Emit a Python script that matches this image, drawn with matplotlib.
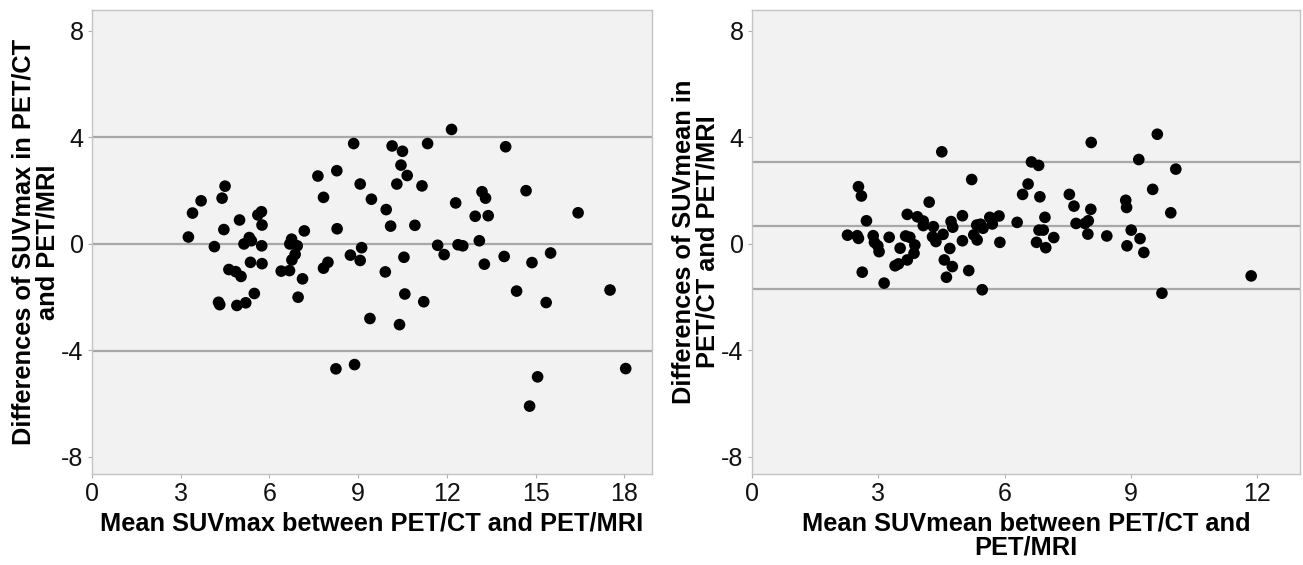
import numpy as np
import matplotlib.pyplot as plt

plt.rcParams['font.family'] = ['Liberation Sans', 'DejaVu Sans']
plt.rcParams['axes.unicode_minus'] = False

# SUVmax: mean of both scanners vs difference
suvmax_mean = [8.85, 8.28, 7.64, 9.07, 7.83, 9.45, 4.50, 3.69, 4.40, 3.40,
               3.26, 4.14, 4.46, 4.99, 5.61, 5.73, 5.75, 5.32, 5.14, 5.39,
               5.74, 5.36, 5.75, 4.63, 4.86, 5.04, 5.49, 4.28, 4.32, 4.90,
               5.20, 6.75, 6.69, 6.94, 6.87, 6.76, 7.18, 6.40, 6.68, 7.12,
               6.97, 8.29, 9.12, 8.74, 9.07, 7.98, 7.83, 9.40, 8.25, 8.88,
               12.16, 10.15, 10.50, 11.35, 13.99, 10.45, 10.66, 10.31, 11.16, 9.95,
               10.10, 10.92, 12.30, 13.19, 13.31, 12.96, 13.40, 14.68, 16.44, 11.69,
               11.91, 12.38, 12.54, 13.10, 13.27, 13.94, 14.88, 15.51, 10.55, 9.92,
               10.58, 11.22, 10.40, 14.36, 15.36, 17.52, 15.07, 14.80, 18.05]
suvmax_diff = [3.77, 2.75, 2.55, 2.25, 1.75, 1.68, 2.17, 1.62, 1.72, 1.16,
               0.26, -0.10, 0.54, 0.90, 1.09, 1.21, 0.71, 0.24, 0.00, 0.12,
               -0.07, -0.69, -0.74, -0.96, -1.04, -1.22, -1.86, -2.19, -2.28, -2.31,
               -2.21, 0.18, 0.00, -0.07, -0.39, -0.60, 0.49, -1.02, -1.00, -1.31,
               -2.00, 0.57, -0.14, -0.42, -0.62, -0.69, -0.91, -2.80, -4.69, -4.53,
               4.30, 3.68, 3.48, 3.77, 3.65, 2.96, 2.57, 2.25, 2.18, 1.29,
               0.67, 0.70, 1.54, 1.96, 1.72, 1.04, 1.06, 2.00, 1.17, -0.05,
               -0.40, -0.03, -0.07, 0.12, -0.76, -0.47, -0.70, -0.34, -0.50, -1.05,
               -1.88, -2.17, -3.03, -1.77, -2.20, -1.73, -4.99, -6.09, -4.68]
suvmax_lines = [-4.02, 0.0, 4.02]

# SUVmean
suvmean_mean = [4.51, 2.53, 2.60, 2.72, 2.27, 2.50, 2.53, 2.88, 2.91, 2.99,
                3.02, 3.26, 2.62, 3.14, 3.52, 3.40, 3.48, 3.69, 3.65, 3.75,
                3.87, 3.85, 3.69, 3.93, 4.07, 4.07, 4.21, 4.31, 4.29, 4.37,
                4.54, 4.73, 4.77, 4.70, 4.57, 4.76, 4.62, 5.00, 5.00, 5.22,
                5.15, 5.47, 5.34, 5.43, 5.49, 5.27, 5.35, 5.65, 5.71, 5.87,
                5.89, 6.30, 6.56, 6.43, 6.64, 6.81, 6.84, 6.96, 6.82, 6.92,
                6.76, 6.98, 7.17,
                8.06, 9.63, 9.19, 10.07, 9.52, 7.54, 7.65, 8.05, 8.88, 8.90,
                9.95, 7.70, 7.91, 7.99, 7.98, 8.43, 9.01, 9.22, 8.91, 9.31,
                11.86, 9.74]
suvmean_diff = [3.46, 2.15, 1.80, 0.87, 0.33, 0.31, 0.21, 0.31, 0.06, -0.07,
                -0.29, 0.25, -1.06, -1.47, -0.16, -0.82, -0.75, 1.11, 0.30, 0.25,
                -0.04, -0.35, -0.60, 1.02, 0.86, 0.69, 1.57, 0.65, 0.27, 0.09,
                0.36, 0.84, 0.63, -0.17, -0.60, -0.85, -1.25, 1.06, 0.12, 2.42,
                -1.00, -1.72, 0.71, 0.74, 0.59, 0.34, 0.15, 1.00, 0.75, 1.05,
                0.06, 0.81, 2.25, 1.86, 3.08, 2.95, 1.77, 1.00, 0.52, 0.52,
                0.06, -0.14, 0.24,
                3.81, 4.12, 3.17, 2.81, 2.05, 1.86, 1.42, 1.30, 1.64, 1.37,
                1.17, 0.77, 0.77, 0.87, 0.37, 0.30, 0.52, 0.20, -0.07, -0.32,
                -1.20, -1.85]
suvmean_lines = [-1.68, 0.69, 3.07]

yticks = [-8, -4, 0, 4, 8]


def bland_altman(ax, x, y, lines, xmax, xticks, xlabel, ylabel, ylab_x):
    ax.set_facecolor('#f2f2f2')
    for v in lines:
        ax.axhline(v, color='#a8a8a8', linewidth=1.6, zorder=1)
    ax.scatter(x, y, s=70, color='black', edgecolors='none', zorder=3)
    ax.set_xlim(0, xmax)
    ax.set_ylim(-8.64, 8.8)
    ax.set_xticks(xticks)
    ax.set_yticks(yticks)
    ax.tick_params(axis='both', labelsize=18, length=3, width=0.8,
                   color='#b0b0b0', labelcolor='#111111', pad=3)
    for sp in ax.spines.values():
        sp.set_color('#c4c4c4')
        sp.set_linewidth(1.0)
    ax.set_xlabel(xlabel, fontsize=18.3, fontweight='bold', labelpad=4, linespacing=0.98)
    ax.set_ylabel(ylabel, fontsize=18.3, fontweight='bold', linespacing=0.98)
    ax.yaxis.set_label_coords(ylab_x, 0.5)


fig = plt.figure(figsize=(13.03, 5.65), dpi=100)
ax1 = fig.add_axes([0.0706, 0.161, 0.4298, 0.822])
ax2 = fig.add_axes([0.5771, 0.161, 0.4206, 0.822])

bland_altman(ax1, suvmax_mean, suvmax_diff, suvmax_lines, 18.94,
             [0, 3, 6, 9, 12, 15, 18],
             'Mean SUVmax between PET/CT and PET/MRI',
             'Differences of SUVmax in PET/CT\nand PET/MRI', -0.058)
bland_altman(ax2, suvmean_mean, suvmean_diff, suvmean_lines, 13.02,
             [0, 3, 6, 9, 12],
             'Mean SUVmean between PET/CT and\nPET/MRI',
             'Differences of SUVmean in\nPET/CT and PET/MRI', -0.059)

fig.savefig('out.png', dpi=100)
